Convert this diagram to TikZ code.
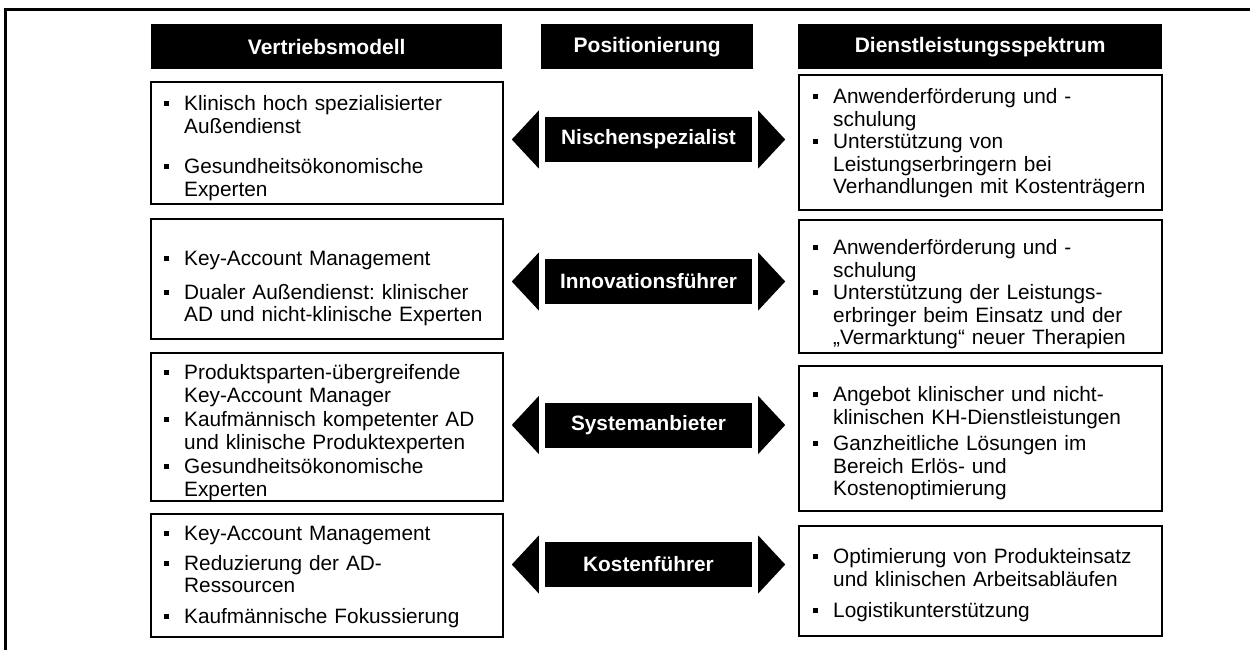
\documentclass[tikz,border=0pt]{standalone}
\usepackage{fontspec}
\setmainfont{Liberation Sans}
\usetikzlibrary{calc}
\frenchspacing

% bulleted entry with hanging indent; lines inside are broken with \newline
\newcommand\itm[1]{\par\noindent\hangindent=20pt\hangafter=1\makebox[20pt][l]{\rule[4.5pt]{5pt}{5pt}}\strut#1\par}
\newcommand\gp[1]{\vspace{#1}}

\tikzset{
  frame/.style={draw, line width=2.3pt, anchor=north west, inner sep=0pt},
  lbox/.style={frame, minimum width=352pt},
  rbox/.style={frame, minimum width=363pt},
  listtext/.style={anchor=north west, inner sep=0pt, font=\fontsize{20.8}{22.5}\selectfont\frenchspacing},
  ltext/.style={listtext, text width=324pt},
  rtext/.style={listtext, text width=336pt},
  head/.style={fill=black, text=white, font=\bfseries\fontsize{21}{24}\selectfont,
    anchor=north west, minimum height=45pt, inner sep=0pt},
  posbox/.style={fill=black, text=white, font=\bfseries\fontsize{20.8}{24}\selectfont,
    minimum width=207pt, minimum height=45pt, inner sep=0pt},
  tri/.style={fill=black}
}

\begin{document}
\begin{tikzpicture}[x=1pt, y=-1pt]
\useasboundingbox (0,0) rectangle (1250,650);
\fill[white] (0,0) rectangle (1250,650);

% outer frame
\draw[line width=2.5pt] (5.5,660) -- (5.5,9.5) -- (1260,9.5);

% column headers
\node[head, minimum width=351pt] (hv) at (151,24) {Vertriebsmodell};
\node[head, minimum width=212pt] (hp) at (541,24) {Positionierung};
\node[head, minimum width=364pt] (hd) at (798,24) {Dienstleistungsspektrum};

% sales model: frames
\node[lbox, minimum height=122pt] (l1) at (150,81) {};
\node[lbox, minimum height=120pt] (l2) at (150,218) {};
\node[lbox, minimum height=148pt] (l3) at (150,352) {};
\node[lbox, minimum height=123pt] (l4) at (150,513) {};
% sales model: entries
\node[ltext] (l1t) at (164,88)
  {\itm{Klinisch hoch spezialisierter\newline Außendienst}\gp{18pt}\itm{Gesundheitsökonomische\newline Experten}};
\node[ltext] (l2t) at (164,243)
  {\itm{Key-Account Management}\gp{11pt}\itm{Dualer Außendienst: klinischer\newline AD und nicht-klinische Experten}};
\node[ltext] (l3t) at (164,357)
  {\itm{Produktsparten-übergreifende\newline Key-Account Manager}\gp{2pt}\itm{Kaufmännisch kompetenter AD\newline und klinische Produktexperten}\gp{2pt}\itm{Gesundheitsökonomische\newline Experten}};
\node[ltext] (l4t) at (164,518)
  {\itm{Key-Account Management}\gp{7pt}\itm{Reduzierung der AD-\newline Ressourcen}\gp{8pt}\itm{Kaufmännische Fokussierung}};

% service range: frames
\node[rbox, minimum height=135pt] (r1) at (798,74) {};
\node[rbox, minimum height=133pt] (r2) at (798,219) {};
\node[rbox, minimum height=145pt] (r3) at (798,365) {};
\node[rbox, minimum height=110pt] (r4) at (798,525) {};
% service range: entries
\node[rtext] (r1t) at (813,81)
  {\itm{Anwenderförderung und -\newline schulung}\itm{Unterstützung von\newline Leistungserbringern bei\newline Verhandlungen mit Kostenträgern}};
\node[rtext] (r2t) at (813,232)
  {\itm{Anwenderförderung und -\newline schulung}\itm{Unterstützung der Leistungs-\newline erbringer beim Einsatz und der\newline „Vermarktung“ neuer Therapien}};
\node[rtext] (r3t) at (813,379)
  {\itm{Angebot klinischer und nicht-\newline klinischen KH-Dienstleistungen}\gp{4pt}\itm{Ganzheitliche Lösungen im\newline Bereich Erlös- und\newline Kostenoptimierung}};
\node[rtext] (r4t) at (813,541)
  {\itm{Optimierung von Produkteinsatz\newline und klinischen Arbeitsabläufen}\gp{9pt}\itm{Logistikunterstützung}};

% positioning labels
\node[posbox] (p1) at (648.5,139.5) {Nischenspezialist};
\node[posbox] (p2) at (648.5,281.5) {Innovationsführer};
\node[posbox] (p3) at (648.5,425) {Systemanbieter};
\node[posbox] (p4) at (648.5,564.5) {Kostenführer};

% arrow heads on both sides of each label
\foreach \p in {p1,p2,p3,p4}{
  \fill[tri] ([xshift=-6pt,yshift=29pt]\p.west) -- ([xshift=-6pt,yshift=-29pt]\p.west)
    -- ([xshift=-33pt]\p.west) -- cycle;
  \fill[tri] ([xshift=6pt,yshift=29pt]\p.east) -- ([xshift=6pt,yshift=-29pt]\p.east)
    -- ([xshift=33pt]\p.east) -- cycle;
}
\end{tikzpicture}
\end{document}
